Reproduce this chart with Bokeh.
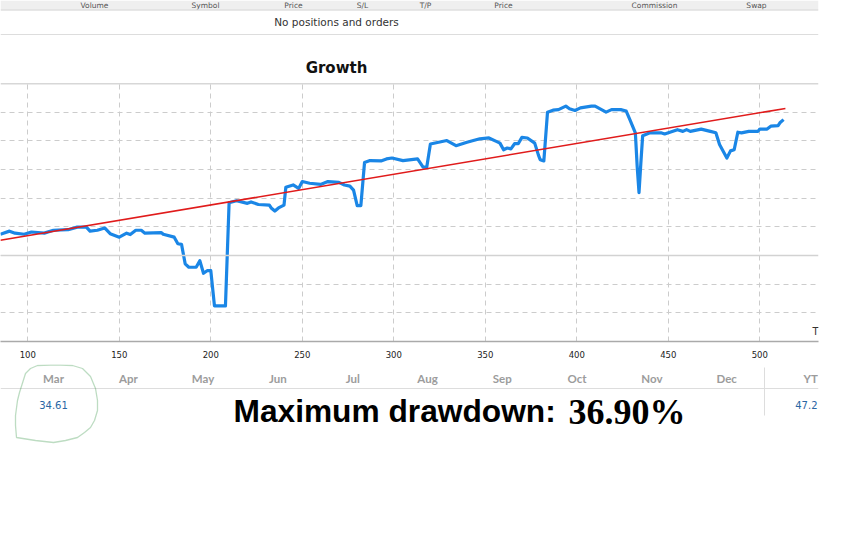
from bokeh.plotting import figure
from bokeh.layouts import column
from bokeh.models import Label, Span, BoxAnnotation, PolyAnnotation, FixedTicker
from bokeh.embed import file_html
from bokeh.resources import INLINE

# ---------------- data ----------------
trades = [85, 90, 93, 98, 102, 109, 114, 122, 127, 132,
          134, 138, 142, 145, 150, 154, 156, 159, 162, 164,
          173, 174, 180, 182, 184, 186, 188, 192, 194, 196,
          198, 200, 202, 208, 210, 214, 220, 222, 226, 232,
          233, 235, 237, 240, 241, 245, 248, 250, 254, 260,
          264, 270, 273, 276, 278, 280, 282, 284, 287, 293,
          296, 299, 305, 313, 316, 318, 320, 329, 334, 340,
          347, 352, 356, 358, 360, 362, 364, 366, 368, 370,
          373, 377, 379, 380, 382, 384, 387, 390, 394, 396,
          399, 402, 408, 410, 416, 419, 424, 427, 429, 432,
          433, 434, 435, 436, 440, 446, 448, 455, 458, 460,
          462, 468, 473, 476, 478, 482, 484, 486, 488, 490,
          494, 499, 500, 504, 506, 510, 511, 513]
growth = [7.4, 8.5, 7.8, 7.4, 8.2, 7.8, 8.8, 9.0, 9.9, 9.9,
          8.5, 8.8, 9.6, 7.6, 6.4, 7.8, 7.3, 8.8, 8.8, 7.8,
          8.0, 7.4, 6.4, 4.1, 3.9, -2.9, -4.1, -4.1, -1.8, -6.2,
          -5.3, -5.3, -17.6, -17.6, 18.4, 19.1, 18.2, 18.7, 17.8, 17.6,
          16.6, 15.5, 16.6, 17.6, 23.8, 24.6, 23.4, 25.8, 25.2, 24.8,
          25.8, 25.5, 24.6, 24.2, 22.8, 17.4, 17.4, 32.4, 33.1, 33.0,
          33.7, 34.0, 33.1, 33.7, 30.8, 30.8, 38.9, 40.1, 38.3, 39.5,
          40.7, 41.0, 39.8, 39.2, 36.9, 37.5, 37.2, 39.0, 39.0, 41.2,
          41.0, 39.2, 35.1, 33.4, 33.0, 50.0, 50.7, 50.9, 52.1, 51.2,
          50.6, 51.5, 52.1, 52.1, 50.0, 50.9, 50.9, 50.4, 47.4, 42.8,
          31.0, 21.9, 32.2, 41.8, 42.8, 42.8, 42.4, 43.9, 43.3, 43.9,
          43.3, 44.1, 43.3, 42.8, 38.7, 34.0, 36.5, 36.9, 43.0, 42.8,
          43.3, 43.3, 44.1, 44.1, 45.1, 45.3, 46.3, 47.4]
trend_trades = [85, 514]
trend_growth = [5.3, 51.3]

x_ticks = [100, 150, 200, 250, 300, 350, 400, 450, 500]
y_grid = [-20, -10, 0, 10, 20, 30, 40, 50]
months = ["Mar", "Apr", "May", "Jun", "Jul", "Aug", "Sep", "Oct", "Nov", "Dec"]
header_cols = ["Volume", "Symbol", "Price", "S/L", "T/P", "Price", "Commission", "Swap"]
ytd_header = "YT"
mar_value = "34.61"
ytd_value = "47.2"
table_message = "No positions and orders"
chart_title = "Growth"
dd_label = "Maximum drawdown:"
dd_value = "36.90%"

W = 847
RIGHT = 818            # right edge of the page content (px)
RB = W - RIGHT         # right border shared by all figures (frames align in the column)


def deco_fig(y_top, y_bottom):
    f = figure(width=W, height=y_bottom - y_top, x_range=(0, RIGHT), y_range=(y_bottom, y_top),
               output_backend="svg", toolbar_location=None,
               min_border_left=0, min_border_top=0, min_border_bottom=0,
               min_border_right=RB)
    f.axis.visible = False
    f.grid.visible = False
    f.outline_line_color = None
    f.background_fill_color = "white"
    f.border_fill_color = "white"
    return f


def hrule(f, y, color, x0=0, x1=RIGHT, w=1.0):
    f.add_layout(BoxAnnotation(left=x0, right=x1, top=y - w / 2, bottom=y + w / 2,
                               fill_color=color, fill_alpha=1, line_color=None))


def txt(f, x, y, s, size, color, font="DejaVu Sans", style="normal",
        align="center", baseline="middle"):
    f.add_layout(Label(x=x, y=y, text=s, text_align=align, text_baseline=baseline,
                       text_font=font, text_font_size=size, text_font_style=style,
                       text_color=color))


# ---------------- top: positions table + title ----------------
top = deco_fig(0, 80)
top.add_layout(BoxAnnotation(left=0, right=RIGHT, top=0, bottom=9,
                             fill_color="#efefef", fill_alpha=1, line_color=None))
header_x = [94, 205, 293, 362, 425, 503, 654, 756]
for s, hx in zip(header_cols, header_x):
    txt(top, hx, 4.8, s, "7.5px", "#555555")
hrule(top, 9.5, "#cfcfcf")
txt(top, 336, 21, table_message, "10.5px", "#333333")
hrule(top, 34, "#dddddd")
txt(top, 336, 67, chart_title, "15px", "#111111", style="bold")

# ---------------- middle: growth chart ----------------
X0, X1 = 85.08, 532.08
Y0, Y1 = -30, 60
CH_TOP = 3             # frame starts 3px into this figure (page y 83)
FRAME_H = 258
CH_BOTTOM = 23
p = figure(width=W, height=CH_TOP + FRAME_H + CH_BOTTOM, x_range=(X0, X1), y_range=(Y0, Y1),
           output_backend="svg", toolbar_location=None,
           min_border_left=0, min_border_right=RB,
           min_border_top=CH_TOP, min_border_bottom=CH_BOTTOM)
p.outline_line_color = None
p.background_fill_color = "white"
p.border_fill_color = "white"

p.yaxis.visible = False
p.xaxis.ticker = FixedTicker(ticks=x_ticks)
p.xaxis.axis_line_color = "#aaaaaa"
p.xaxis.axis_line_width = 1.5
p.xaxis.major_tick_line_color = None
p.xaxis.minor_tick_line_color = None
p.xaxis.major_label_text_font = "DejaVu Sans"
p.xaxis.major_label_text_font_size = "8.5px"
p.xaxis.major_label_text_color = "#222222"
p.xaxis.major_label_standoff = 3

p.xgrid.ticker = FixedTicker(ticks=x_ticks)
p.ygrid.ticker = FixedTicker(ticks=y_grid)
for g in (p.xgrid, p.ygrid):
    g.grid_line_color = "#cccccc"
    g.grid_line_dash = "5 4"
    g.grid_line_width = 1

p.add_layout(Span(location=0, dimension="width", line_color="#d2d2d2", line_width=1.5))
p.add_layout(Span(location=Y1, dimension="width", line_color="#b0b0b0", line_width=1.5))

p.line(trades, growth, line_color="#1a86e6", line_width=3.2, line_join="round")
p.line(trend_trades, trend_growth, line_color="#e01b1b", line_width=1.5)

p.add_layout(Label(x=RIGHT - 6, y=10, x_units="screen", y_units="screen", text="T",
                   text_align="left", text_baseline="middle", text_font="DejaVu Sans",
                   text_font_size="10px", text_color="#333333"))

# ---------------- bottom: monthly table + drawdown ----------------
bot = deco_fig(364, 538)

month_x = [53 + 74.8 * i for i in range(len(months))]
for m, mx in zip(months, month_x):
    txt(bot, mx, 378, m, "11.5px", "#9c9c9c", font="Lato", style="bold")
txt(bot, 803, 378, ytd_header, "11.5px", "#9c9c9c", font="Lato", style="bold", align="left")
hrule(bot, 388, "#dddddd")
bot.add_layout(BoxAnnotation(left=763.5, right=764.5, top=367, bottom=415,
                             fill_color="#dddddd", fill_alpha=1, line_color=None))
txt(bot, 53, 404, mar_value, "10px", "#2a66a3")
txt(bot, 817, 404, ytd_value, "10px", "#2a66a3", align="right")

loop_px = [(60, 364.5), (72, 365), (82, 368), (90, 376), (95, 388), (97, 400), (97, 410),
           (94, 420), (90, 427), (84, 432), (77, 437), (65, 440), (53, 442), (35, 440),
           (16, 437), (15, 425), (15, 415), (17, 400), (19, 392), (25, 373), (30, 368),
           (37, 365), (50, 364.5), (60, 364.5)]
bot.add_layout(PolyAnnotation(xs=[a for a, b in loop_px], ys=[b for a, b in loop_px],
                              fill_alpha=0, line_color="#268a36", line_width=1.3))

txt(bot, 233, 410, dd_label, "31.7px", "#000000", font="Liberation Sans", style="bold",
    align="left", baseline="alphabetic")
txt(bot, 568, 411, dd_value, "36px", "#000000", font="Liberation Serif", style="bold",
    align="left", baseline="alphabetic")

page = column(top, p, bot, spacing=0)
open("out.html", "w").write(file_html(page, INLINE))
